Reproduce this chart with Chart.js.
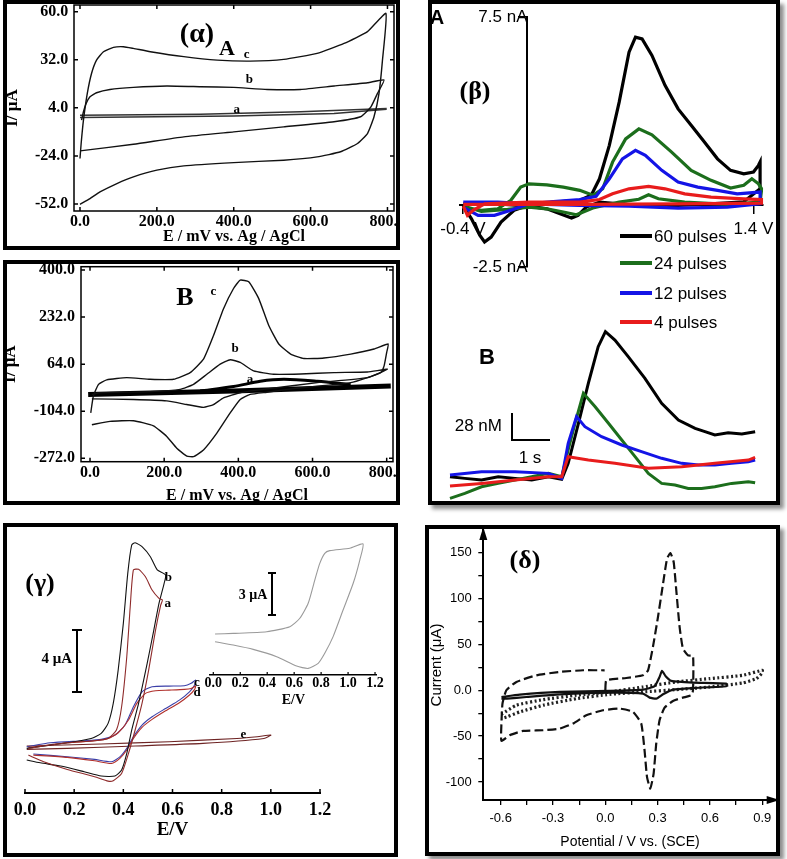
<!DOCTYPE html>
<html>
<head>
<meta charset="utf-8">
<title>CV panels</title>
<script src="https://cdn.jsdelivr.net/npm/chart.js@4.4.1/dist/chart.umd.min.js"></script>
<style>
  html, body { margin: 0; padding: 0; background: #fff; }
  #page { position: relative; width: 787px; height: 859px; overflow: hidden; }
  .box { position: absolute; border: 4px solid #000; box-sizing: border-box; }
  .shadow { box-shadow: 4px 4px 4px rgba(0,0,0,0.45); }
  canvas { position: absolute; }
  .t { position: absolute; white-space: nowrap; line-height: 1; transform: translate(-50%, -50%); color: #000; }
  .l { transform: translate(0, -50%); }
  .sf { font-family: "Liberation Serif", "Times New Roman", serif; font-weight: bold; }
  .ss { font-family: "Liberation Sans", Arial, sans-serif; }
  .bar { position: absolute; background: #000; }
</style>
</head>
<body>
<div id="page">
  <div class="box" style="left:3px;top:0;width:397px;height:250px"></div>
  <div class="box" style="left:3px;top:260px;width:397px;height:245px"></div>
  <div class="box shadow" style="left:428px;top:0;width:352px;height:505px"></div>
  <div class="box" style="left:3px;top:523px;width:395px;height:334px"></div>
  <div class="box shadow" style="left:425px;top:525px;width:355px;height:331px"></div>
</div>

<script>
// ---- panel alpha (A): E / mV, I / uA
const alphaXTicks = [0, 200, 400, 600, 800];
const alphaYTicks = [-52, -24, 4, 32, 60];
const alphaC = [[0,-52.2],[26,-48.9],[52,-45.0],[96,-40.1],[139,-36.2],[200,-32.3],[270,-29.8],[400,-27.9],[530,-26.5],[617,-24.6],[678,-21.6],[722,-16.8],[748,-11.0],[765,-1.2],[778,12.4],[787,31.8],[796,59.0],[748,48.4],[687,41.5],[617,35.7],[530,32.2],[443,31.2],[357,31.8],[270,33.8],[183,36.7],[139,38.6],[113,39.6],[87,39.2],[61,36.7],[43,31.8],[30,24.0],[19,12.4],[9,-3.2],[3,-16.8],[0,-25.5]];
const alphaB = [[0,-21.1],[139,-17.2],[270,-12.9],[400,-10.0],[530,-7.1],[661,-4.1],[730,-1.2],[757,4.6],[774,12.4],[791,20.2],[748,18.6],[661,16.7],[574,14.7],[487,14.7],[400,15.9],[313,16.3],[226,16.7],[139,15.9],[78,14.7],[43,12.8],[26,10.4],[16,6.5],[9,1.7],[4,-3.2]];
const alphaA = [[0,-1.6],[400,-0.8],[661,0.7],[796,3.2],[796,3.6],[574,1.7],[313,0.3],[0,-0.3]];

// ---- panel B: E / mV, I / uA
const bXTicks = [0, 200, 400, 600, 800];
const bYTicks = [-272, -104, 64, 232, 400];
const bC = [[2,-110],[9,-50],[23,-8],[45,8],[99,16],[162,10],[225,10],[270,34],[306,82],[333,166],[360,262],[387,334],[405,364],[428,358],[455,298],[482,202],[509,136],[541,100],[577,84],[631,86],[703,100],[766,118],[804,136],[800,106],[793,58],[784,34],[703,-2],[568,-20],[477,-36],[432,-44],[405,-62],[378,-110],[342,-182],[306,-242],[279,-266],[261,-264],[234,-236],[207,-194],[171,-156],[117,-138],[54,-140],[5,-152]];
const bB = [[5,-60],[117,-62],[207,-67],[261,-80],[306,-90],[333,-80],[360,-56],[405,-38],[477,-24],[613,-2],[748,16],[802,46],[748,36],[658,34],[568,29],[495,28],[441,40],[405,70],[378,80],[351,64],[315,28],[279,-8],[243,-26],[162,-34],[27,-38],[5,-44]];
const bA = [[-5,-44],[387,-32],[811,-14]];
const bAHump = [[297,-32],[387,-16],[459,3],[523,10],[613,3],[703,-9]];

// ---- panel beta A: potential (V) vs current (nA)
const betaXTicks = [-0.4, 1.4];
const betaYTicks = [-2.5, 7.5];
const beta60 = [[-0.398,-0.06],[-0.347,-0.57],[-0.296,-1.23],[-0.266,-1.5],[-0.225,-1.3],[-0.164,-0.7],[-0.083,-0.23],[0.009,-0.03],[0.161,0.1],[0.324,0.17],[0.395,0.37],[0.446,1.03],[0.507,2.37],[0.568,4.1],[0.629,6.1],[0.669,6.7],[0.71,6.63],[0.771,5.97],[0.852,4.77],[0.933,3.83],[1.014,3.17],[1.096,2.5],[1.177,1.83],[1.258,1.37],[1.34,1.23],[1.4,1.3],[1.431,1.57],[1.441,1.7],[1.441,0.63],[1.34,0.11],[1.137,0.03],[0.933,-0.03],[0.73,-0.06],[0.568,0.03],[0.446,0.1],[0.364,-0.1],[0.313,-0.43],[0.273,-0.54],[0.202,-0.37],[0.12,-0.17],[0.009,-0.06],[-0.184,0.03],[-0.398,0.03]];
const beta24 = [[-0.398,-0.1],[-0.286,-0.23],[-0.184,-0.17],[-0.103,0.17],[-0.042,0.7],[0.009,0.83],[0.12,0.79],[0.222,0.7],[0.324,0.57],[0.405,0.37],[0.466,0.63],[0.527,1.7],[0.608,2.63],[0.69,3.03],[0.771,2.79],[0.893,2.1],[1.014,1.37],[1.137,0.97],[1.258,0.66],[1.34,0.77],[1.39,1.03],[1.431,0.83],[1.451,0.63],[1.441,0.1],[1.238,0.01],[0.974,0.1],[0.811,0.23],[0.75,0.39],[0.69,0.21],[0.568,0.1],[0.405,-0.14],[0.303,-0.41],[0.222,-0.3],[0.12,-0.17],[0.009,-0.1],[-0.123,-0.19],[-0.286,-0.27],[-0.398,-0.06]];
const beta12 = [[-0.398,-0.1],[-0.306,-0.43],[-0.205,-0.43],[-0.103,-0.23],[0.009,0.03],[0.161,0.12],[0.324,0.2],[0.425,0.33],[0.507,1.03],[0.588,1.83],[0.669,2.17],[0.73,1.97],[0.832,1.37],[0.933,0.9],[1.055,0.7],[1.177,0.57],[1.299,0.43],[1.441,0.5],[1.441,0.03],[1.238,-0.1],[0.933,-0.14],[0.629,-0.06],[0.324,-0.03],[0.009,0.03],[-0.184,0.1],[-0.398,0.1]];
const beta4 = [[-0.398,-0.06],[-0.372,-0.43],[-0.337,-0.23],[-0.266,0.03],[0.009,0.1],[0.324,0.1],[0.446,0.2],[0.527,0.43],[0.629,0.63],[0.75,0.73],[0.852,0.63],[0.974,0.43],[1.137,0.3],[1.34,0.23],[1.451,0.2],[1.451,0.06],[0.933,0.03],[0.324,0.01],[0.009,0.01],[-0.398,0.01]];

// ---- panel beta B: time (s) vs concentration (nM)
const betaT60 = [[0,0.3],[0.39,-1.4],[0.83,-3.1],[1.27,0.3],[1.71,-1.4],[2.15,-3.1],[2.59,0.3],[2.94,-2.4],[3.11,14.2],[3.38,55.7],[3.64,97.2],[3.9,135.1],[4.09,150.7],[4.34,142],[4.69,124.8],[5.13,102.3],[5.57,76.4],[6.01,59.1],[6.45,50.5],[6.71,47.0],[6.97,43.6],[7.32,45.9],[7.68,44.6],[8.03,47.0]];
const betaT24 = [[0,-22.1],[0.39,-17.0],[0.83,-10.1],[1.27,-6.6],[1.71,-3.1],[2.15,0.3],[2.59,3.8],[2.94,0.3],[3.11,28.0],[3.29,55.7],[3.51,86.8],[3.82,72.9],[4.17,55.7],[4.52,38.4],[4.87,21.1],[5.22,3.8],[5.57,-6.6],[5.92,-8.3],[6.27,-11.8],[6.62,-11.8],[6.97,-10.1],[7.41,-6.6],[7.85,-4.8],[8.03,-5.9]];
const betaT12 = [[0,2.1],[0.83,5.5],[1.71,5.5],[2.59,3.8],[2.94,-1.4],[3.11,34.9],[3.33,62.6],[3.55,52.2],[3.99,41.8],[4.52,33.2],[5.04,26.3],[5.57,19.4],[6.1,14.2],[6.54,12.5],[6.97,12.5],[7.41,14.2],[7.85,15.9],[8.03,17.6]];
const betaT4 = [[0,-9.3],[0.83,-6.6],[1.71,-3.1],[2.59,0.3],[2.94,0.3],[3.11,21.1],[3.64,17.6],[4.34,14.2],[5.22,9.0],[6.1,10.7],[6.97,14.2],[7.85,17.6],[8.03,20.4]];
const betaLegend = ['60 pulses', '24 pulses', '12 pulses', '4 pulses'];
const betaColors = ['#000000', '#1c6e1c', '#1414e6', '#e81c1c'];

// ---- panel gamma: E / V vs I / uA
const gammaXTicks = [0, 0.2, 0.4, 0.6, 0.8, 1.0, 1.2];
const gammaB = [[0.007,0.76],[0.103,0.97],[0.2,1.19],[0.269,1.4],[0.31,1.73],[0.338,2.38],[0.359,3.68],[0.379,5.84],[0.4,8.87],[0.418,12.12],[0.434,13.96],[0.448,14.11],[0.476,13.85],[0.51,13.2],[0.538,12.34],[0.572,12.01],[0.566,11.47],[0.545,10.17],[0.524,8.44],[0.497,6.27],[0.462,3.68],[0.434,1.95],[0.414,0.43],[0.393,-0.65],[0.366,-1.04],[0.31,-1.04],[0.241,-0.76],[0.145,-0.39],[0.062,-0.18],[0.007,0.0]];
const gammaA = [[0.014,0.76],[0.172,1.12],[0.283,1.25],[0.338,1.4],[0.372,1.95],[0.393,3.46],[0.414,6.71],[0.428,9.95],[0.441,12.34],[0.462,12.38],[0.49,11.9],[0.517,11.04],[0.545,10.5],[0.559,10.39],[0.552,10.06],[0.531,8.44],[0.503,5.84],[0.476,3.68],[0.448,1.95],[0.421,0.43],[0.393,-0.87],[0.359,-1.34],[0.338,-1.37],[0.283,-1.08],[0.172,-0.61],[0.076,-0.11],[0.028,0.21],[0.014,0.32]];
const gammaC = [[0.007,0.86],[0.103,1.12],[0.241,1.25],[0.31,1.34],[0.366,1.62],[0.407,2.27],[0.441,3.46],[0.476,4.43],[0.517,4.76],[0.586,4.8],[0.648,4.82],[0.676,4.98],[0.694,5.19],[0.69,4.87],[0.669,4.43],[0.628,3.89],[0.572,3.35],[0.517,2.81],[0.476,2.27],[0.441,1.51],[0.414,0.76],[0.386,0.21],[0.352,-0.11],[0.283,0.04],[0.172,0.21],[0.034,0.39]];
const gammaD = [[0.014,0.82],[0.172,1.12],[0.283,1.25],[0.338,1.4],[0.379,1.77],[0.421,2.6],[0.455,3.68],[0.49,4.33],[0.531,4.5],[0.586,4.54],[0.648,4.59],[0.676,4.65],[0.694,4.8],[0.69,4.59],[0.669,4.22],[0.628,3.72],[0.572,3.2],[0.517,2.64],[0.476,2.12],[0.441,1.4],[0.414,0.65],[0.386,0.11],[0.352,-0.22],[0.283,-0.05],[0.172,0.17],[0.034,0.32]];
const gammaE = [[0.007,0.91],[0.31,1.04],[0.586,1.19],[0.862,1.4],[0.945,1.51],[1.0,1.62],[0.972,1.4],[0.724,1.08],[0.448,0.91],[0.172,0.76],[0.007,0.69]];
const insetXTicks = [0, 0.2, 0.4, 0.6, 0.8, 1.0, 1.2];
const gammaInset = [[0.013,1.86],[0.148,1.9],[0.396,2.02],[0.568,2.38],[0.642,2.98],[0.704,4.05],[0.753,5.71],[0.79,6.9],[0.827,7.62],[0.864,7.81],[1.013,7.98],[1.111,8.29],[1.087,7.14],[1.038,5.48],[0.963,3.57],[0.889,1.67],[0.827,0.48],[0.778,-0.24],[0.704,-0.6],[0.618,-0.43],[0.47,0.24],[0.296,0.76],[0.148,1.07],[0.013,1.31]];

// ---- panel delta: potential / V vs (SCE), current (uA)
const deltaXTicks = [-0.6, -0.45, -0.3, -0.15, 0, 0.15, 0.3, 0.45, 0.6, 0.75, 0.9];
const deltaXLabels = [-0.6, -0.3, 0, 0.3, 0.6, 0.9];
const deltaYTicks = [-100, -75, -50, -25, 0, 25, 50, 75, 100, 125, 150];
const deltaYLabels = [-100, -50, 0, 50, 100, 150];
const deltaDash = [[0,0],[0.006,10.9],[0.12,13.4],[0.216,16.3],[0.245,21.8],[0.273,47.2],[0.302,79.9],[0.331,116.2],[0.354,143.4],[0.373,149.6],[0.392,139.8],[0.407,108.9],[0.426,69.0],[0.445,45.4],[0.474,38.1],[0.503,37.4],[0.503,0],[0.493,-5.4],[0.445,-8.0],[0.388,-11.6],[0.34,-18.9],[0.311,-32.7],[0.292,-58.1],[0.277,-90.8],[0.258,-107.1],[0.239,-94.4],[0.225,-65.4],[0.206,-36.3],[0.159,-23.6],[0.082,-20.0],[-0.013,-21.8],[-0.109,-27.2],[-0.185,-36.3],[-0.262,-41.8],[-0.357,-43.6],[-0.472,-44.3],[-0.548,-49.0],[-0.596,-55.2],[-0.596,-36.3],[-0.59,-14.5],[-0.568,0],[-0.51,9.1],[-0.396,16.3],[-0.262,20.0],[-0.128,21.8],[-0.004,21.8]];
const deltaSolid = [[-0.596,-7.3],[-0.491,-4.7],[-0.262,-1.8],[0.025,-0.7],[0.216,0.7],[0.283,4.4],[0.311,14.5],[0.325,21.1],[0.346,15.3],[0.378,10.2],[0.503,8.4],[0.694,7.3],[0.694,4.4],[0.503,2.5],[0.388,0.7],[0.331,-4.4],[0.292,-9.1],[0.254,-8.0],[0.216,-3.6],[0.025,-2.5],[-0.262,-4.4],[-0.453,-7.3],[-0.564,-9.1],[-0.596,-9.1]];
const deltaDot = [[-0.596,-26.1],[-0.51,-16.3],[-0.357,-10.2],[-0.166,-5.4],[0.025,-1.8],[0.216,3.6],[0.407,9.1],[0.598,12.7],[0.789,16.3],[0.9,21.8],[0.9,18.9],[0.866,12.7],[0.789,8.0],[0.598,3.6],[0.407,0.7],[0.216,-1.8],[0.025,-4.4],[-0.166,-9.1],[-0.357,-16.3],[-0.491,-23.6],[-0.564,-29.0],[-0.596,-30.9]];

const SERIF = '"Liberation Serif", "Times New Roman", serif';
const SANS = '"Liberation Sans", Arial, sans-serif';

Chart.defaults.color = '#000';
Chart.defaults.animation = false;
Chart.defaults.responsive = false;
Chart.defaults.plugins.legend.display = false;
Chart.defaults.plugins.tooltip.enabled = false;
Chart.defaults.elements.point.radius = 0;

const page = document.getElementById('page');

function canvasAt(left, top, w, h) {
  const c = document.createElement('canvas');
  c.width = w; c.height = h;
  c.style.left = left + 'px'; c.style.top = top + 'px';
  page.appendChild(c);
  return c;
}
function pts(a) { return a.map(p => ({x: p[0], y: p[1]})); }
function line(data, color, width, extra) {
  return Object.assign({data: pts(data), borderColor: color, borderWidth: width,
    showLine: true, pointRadius: 0, fill: false, tension: 0}, extra || {});
}
function useTicks(list) { return axis => { axis.ticks = list.map(v => ({value: v})); }; }
function fixY(w) { return s => { s.width = w; s.paddingTop = 0; s.paddingBottom = 0; }; }
function fixX(h) { return s => { s.height = h; s.paddingLeft = 0; s.paddingRight = 0; }; }
function bold(size) { return {family: SERIF, size: size, weight: 'bold'}; }

// box around the plot area + inward tick marks
const framePlugin = {
  id: 'frame',
  afterDatasetsDraw(chart, args, o) {
    const {ctx, chartArea: a, scales: {x, y}} = chart;
    const len = o.len || 4;
    ctx.save();
    ctx.strokeStyle = '#000';
    ctx.lineWidth = o.width || 1.5;
    if (o.box) ctx.strokeRect(a.left, a.top, a.right - a.left, a.bottom - a.top);
    ctx.beginPath();
    if (o.xIn) x.ticks.forEach(t => {
      const p = x.getPixelForValue(t.value);
      ctx.moveTo(p, a.bottom); ctx.lineTo(p, a.bottom - len);
      if (o.box) { ctx.moveTo(p, a.top); ctx.lineTo(p, a.top + len); }
    });
    if (o.yIn) y.ticks.forEach(t => {
      const p = y.getPixelForValue(t.value);
      ctx.moveTo(a.left, p); ctx.lineTo(a.left + len, p);
      if (o.box) { ctx.moveTo(a.right, p); ctx.lineTo(a.right - len, p); }
    });
    ctx.stroke();
    ctx.restore();
  }
};

// arrow heads at the ends of the axes (delta panel)
const arrowPlugin = {
  id: 'arrows',
  afterDraw(chart) {
    const {ctx, chartArea: a} = chart;
    ctx.save();
    ctx.fillStyle = '#000';
    ctx.beginPath();
    ctx.moveTo(a.left, a.top - 3); ctx.lineTo(a.left - 4, a.top + 10); ctx.lineTo(a.left + 4, a.top + 10);
    ctx.fill();
    ctx.beginPath();
    ctx.moveTo(a.right + 3, a.bottom); ctx.lineTo(a.right - 10, a.bottom - 4); ctx.lineTo(a.right - 10, a.bottom + 4);
    ctx.fill();
    ctx.restore();
  }
};

function cvAxes(xMin, xMax, xTicks, yMin, yMax, yTicks, yW, xH, xPad, xTitlePad, yPad, yTitlePad) {
  return {
    x: {type: 'linear', min: xMin, max: xMax, afterBuildTicks: useTicks(xTicks), afterFit: fixX(xH),
      grid: {display: false, drawTicks: false}, border: {display: false},
      ticks: {padding: xPad, font: bold(16), maxRotation: 0, autoSkip: false, callback: v => v.toFixed(1)},
      title: {display: true, text: 'E / mV vs. Ag / AgCl', font: bold(16), padding: {top: 0, bottom: xTitlePad}}},
    y: {type: 'linear', min: yMin, max: yMax, afterBuildTicks: useTicks(yTicks), afterFit: fixY(yW),
      grid: {display: false, drawTicks: false}, border: {display: false},
      ticks: {padding: yPad, font: bold(16), autoSkip: false, callback: v => v.toFixed(1)},
      title: {display: true, text: 'I/ μA', font: bold(17), padding: {top: yTitlePad, bottom: 0}}}
  };
}

// ---------- alpha
new Chart(canvasAt(0, 0, 400, 250), {
  type: 'scatter',
  data: {datasets: [
    line(alphaC, '#111', 1.4, {tension: 0.15}),
    line(alphaB, '#111', 1.4, {tension: 0.15}),
    line(alphaA, '#333', 1.6)
  ]},
  options: {
    layout: {padding: {left: 0, top: 5, right: 6, bottom: 0}},
    scales: cvAxes(-15.6, 817, alphaXTicks, -56.1, 63.9, alphaYTicks, 74, 39, 1.4, 3.4, 5.7, 2.8),
    plugins: {frame: {box: true, xIn: true, yIn: true, len: 4, width: 1.5}}
  },
  plugins: [framePlugin]
});

// ---------- B
new Chart(canvasAt(0, 255, 400, 250), {
  type: 'scatter',
  data: {datasets: [
    line(bC, '#111', 1.4, {tension: 0.15}),
    line(bB, '#111', 1.4, {tension: 0.15}),
    line(bA, '#000', 5),
    line(bAHump, '#000', 3, {tension: 0.3})
  ]},
  options: {
    layout: {padding: {left: 0, top: 11.7, right: 7, bottom: 0}},
    scales: cvAxes(-24.3, 817, bXTicks, -284, 411.8, bYTicks, 81, 43.3, 2, 0, 6, 0),
    plugins: {frame: {box: true, xIn: true, yIn: true, len: 4, width: 1.5}}
  },
  plugins: [framePlugin]
});

// ---------- beta A (axes crossing at 0)
new Chart(canvasAt(430, 0, 350, 290), {
  type: 'scatter',
  data: {datasets: [
    line(beta60, betaColors[0], 3.2, {order: 3}),
    line(beta24, betaColors[1], 3.2, {order: 2}),
    line(beta12, betaColors[2], 3.2, {order: 1}),
    line(beta4, betaColors[3], 3.2, {order: 0})
  ]},
  options: {
    layout: {padding: {left: 29.7, top: 15, right: 12, bottom: 23}},
    scales: {
      x: {type: 'linear', min: -0.42, max: 1.46, position: {y: 0}, afterBuildTicks: useTicks(betaXTicks),
        grid: {display: true, drawOnChartArea: false, drawTicks: true, tickLength: 8, color: '#000', lineWidth: 1.5},
        border: {display: true, color: '#000', width: 2},
        ticks: {padding: 6.3, font: {family: SANS, size: 17}, maxRotation: 0, autoSkip: false, callback: v => v + ' V'}},
      y: {type: 'linear', min: -2.5, max: 7.5, position: {x: 0}, afterBuildTicks: useTicks(betaYTicks),
        grid: {display: true, drawOnChartArea: false, drawTicks: true, tickLength: 8, color: '#000', lineWidth: 1.5},
        border: {display: true, color: '#000', width: 2},
        ticks: {padding: 7, font: {family: SANS, size: 17}, autoSkip: false, callback: v => v + ' nA'}}
    }
  }
});

// ---------- beta B (time traces, no axes)
new Chart(canvasAt(440, 320, 330, 185), {
  type: 'scatter',
  data: {datasets: [
    line(betaT60, betaColors[0], 3, {order: 3}),
    line(betaT24, betaColors[1], 3, {order: 2}),
    line(betaT12, betaColors[2], 3, {order: 1}),
    line(betaT4, betaColors[3], 3, {order: 0})
  ]},
  options: {
    layout: {padding: 0},
    scales: {
      x: {type: 'linear', min: -0.263, max: 8.421, display: false},
      y: {type: 'linear', min: -29.0, max: 162.8, display: false}
    }
  }
});

// ---------- gamma main
new Chart(canvasAt(5, 527, 390, 328), {
  type: 'scatter',
  data: {datasets: [
    line(gammaA, '#8e2a2a', 1.1, {tension: 0.2}),
    line(gammaB, '#111', 1.1, {tension: 0.2}),
    line(gammaD, '#b0302c', 1.1, {tension: 0.2}),
    line(gammaC, '#3b3fa8', 1.1, {tension: 0.2}),
    line(gammaE, '#6e2424', 1.1, {tension: 0.2})
  ]},
  options: {
    layout: {padding: {left: 20, top: 8, right: 75, bottom: 0}},
    scales: {
      x: {type: 'linear', min: 0, max: 1.2, afterBuildTicks: useTicks(gammaXTicks), afterFit: fixX(62),
        grid: {display: false, drawTicks: false}, border: {display: true, color: '#000', width: 2},
        ticks: {padding: 6.2, font: bold(18), maxRotation: 0, autoSkip: false, callback: v => v.toFixed(1)},
        title: {display: true, text: 'E/V', font: bold(19), padding: {top: 0, bottom: 13.6}}},
      y: {type: 'linear', min: -2.14, max: 14.61, display: false}
    },
    plugins: {frame: {box: false, xIn: true, len: 4, width: 1.5}}
  },
  plugins: [framePlugin]
});

// ---------- gamma inset
new Chart(canvasAt(195, 535, 200, 175), {
  type: 'scatter',
  data: {datasets: [line(gammaInset, '#9a9a9a', 1.1, {tension: 0.2})]},
  options: {
    layout: {padding: {left: 15, top: 5, right: 18.3, bottom: 0}},
    scales: {
      x: {type: 'linear', min: -0.0245, max: 1.2124, afterBuildTicks: useTicks(insetXTicks), afterFit: fixX(35),
        grid: {display: false, drawTicks: false}, border: {display: true, color: '#000', width: 1.5},
        ticks: {padding: 0, font: bold(14), maxRotation: 0, autoSkip: false, callback: v => v.toFixed(1)},
        title: {display: true, text: 'E/V', font: bold(14), padding: {top: 0, bottom: 0.9}}},
      y: {type: 'linear', min: -1.07, max: 8.57, display: false}
    },
    plugins: {frame: {box: false, xIn: true, len: 3, width: 1.2}}
  },
  plugins: [framePlugin]
});

// ---------- delta
new Chart(canvasAt(425, 525, 355, 330), {
  type: 'scatter',
  data: {datasets: [
    line(deltaDash, '#111', 2.2, {borderDash: [9, 4], tension: 0.15}),
    line(deltaSolid, '#111', 2.2, {tension: 0.15}),
    line(deltaDot, '#222', 3.2, {borderDash: [2, 2.5], tension: 0.15})
  ]},
  options: {
    layout: {padding: {left: 0, top: 5, right: 3.3, bottom: 0}},
    scales: {
      x: {type: 'linear', min: -0.7, max: 0.983, afterBuildTicks: useTicks(deltaXTicks), afterFit: fixX(55),
        grid: {display: true, drawOnChartArea: false, drawTicks: true, tickLength: 5, color: '#000', lineWidth: 1.3},
        border: {display: true, color: '#000', width: 2},
        ticks: {padding: 5.5, font: {family: SANS, size: 13}, maxRotation: 0, autoSkip: false,
          callback: v => deltaXLabels.includes(v) ? v.toFixed(1) : ''},
        title: {display: true, text: 'Potential / V vs. (SCE)', font: {family: SANS, size: 14}, padding: {top: 0, bottom: 4.9}}},
      y: {type: 'linear', min: -119.6, max: 174.7, afterBuildTicks: useTicks(deltaYTicks), afterFit: fixY(58.3),
        grid: {display: true, drawOnChartArea: false, drawTicks: true, tickLength: 5, color: '#000', lineWidth: 1.3},
        border: {display: true, color: '#000', width: 2},
        ticks: {padding: 6.6, font: {family: SANS, size: 13}, autoSkip: false,
          callback: v => deltaYLabels.includes(v) ? (v === 0 ? '0.0' : String(v)) : ''},
        title: {display: true, text: 'Current (μA)', font: {family: SANS, size: 15}, padding: {top: 2.7, bottom: 0}}}
    }
  },
  plugins: [arrowPlugin]
});
</script>

<!-- text annotations and scale bars -->
<div id="notes">
<script>
const notes = [
  ['(α)', 197, 33, 'sf', 28], ['A', 227, 47.5, 'sf', 22], ['c', 246.7, 53.3, 'sf', 13], ['b', 249.3, 78.3, 'sf', 13], ['a', 236.7, 107.7, 'sf', 13],
  ['B', 185, 296.7, 'sf', 26], ['c', 213.3, 290, 'sf', 13], ['b', 235, 346.7, 'sf', 13], ['a', 250, 378.3, 'sf', 13],
  ['A', 437, 17, 'ss', 20, 'bold'], ['(β)', 475, 91, 'sf', 26], ['B', 487, 357, 'ss', 22, 'bold'],
  ['28 nM', 478.3, 425, 'ss', 17], ['1 s', 530, 456.7, 'ss', 17],
  ['(γ)', 40, 583.3, 'sf', 26], ['b', 168.3, 576, 'sf', 13], ['a', 167.7, 601.7, 'sf', 13], ['c', 197, 680.7, 'sf', 13], ['d', 197, 691, 'sf', 13], ['e', 243.3, 732.7, 'sf', 13],
  ['4 μA', 56.7, 658.3, 'sf', 15], ['3 μA', 253, 595, 'sf', 14],
  ['(δ)', 525, 560, 'sf', 26]
];
notes.forEach(n => {
  const d = document.createElement('div');
  d.className = 't ' + n[3];
  d.textContent = n[0];
  d.style.left = n[1] + 'px'; d.style.top = n[2] + 'px'; d.style.fontSize = n[4] + 'px';
  if (n[5]) d.style.fontWeight = n[5];
  page.appendChild(d);
});
// legend of panel beta
const legendRows = [236, 263.3, 293.3, 321.7];
betaLegend.forEach((txt, i) => {
  const sw = document.createElement('div');
  sw.className = 'bar';
  sw.style.cssText = 'left:620px;top:' + (legendRows[i] - 2) + 'px;width:32px;height:4px;background:' + betaColors[i];
  page.appendChild(sw);
  const d = document.createElement('div');
  d.className = 't l ss';
  d.textContent = txt;
  d.style.left = '654px'; d.style.top = legendRows[i] + 'px'; d.style.fontSize = '17px';
  page.appendChild(d);
});
// scale bars
const bars = [
  [75.7, 630, 2, 61.7], [71.7, 629, 10, 2], [71.7, 690.7, 10, 2],
  [270.7, 573.3, 2, 41.7], [267.7, 572.3, 8, 2], [267.7, 614, 8, 2],
  [511, 413, 2, 28], [511, 439, 39, 2]
];
bars.forEach(b => {
  const d = document.createElement('div');
  d.className = 'bar';
  d.style.cssText = 'left:' + b[0] + 'px;top:' + b[1] + 'px;width:' + b[2] + 'px;height:' + b[3] + 'px';
  page.appendChild(d);
});
</script>
</div>
</body>
</html>
